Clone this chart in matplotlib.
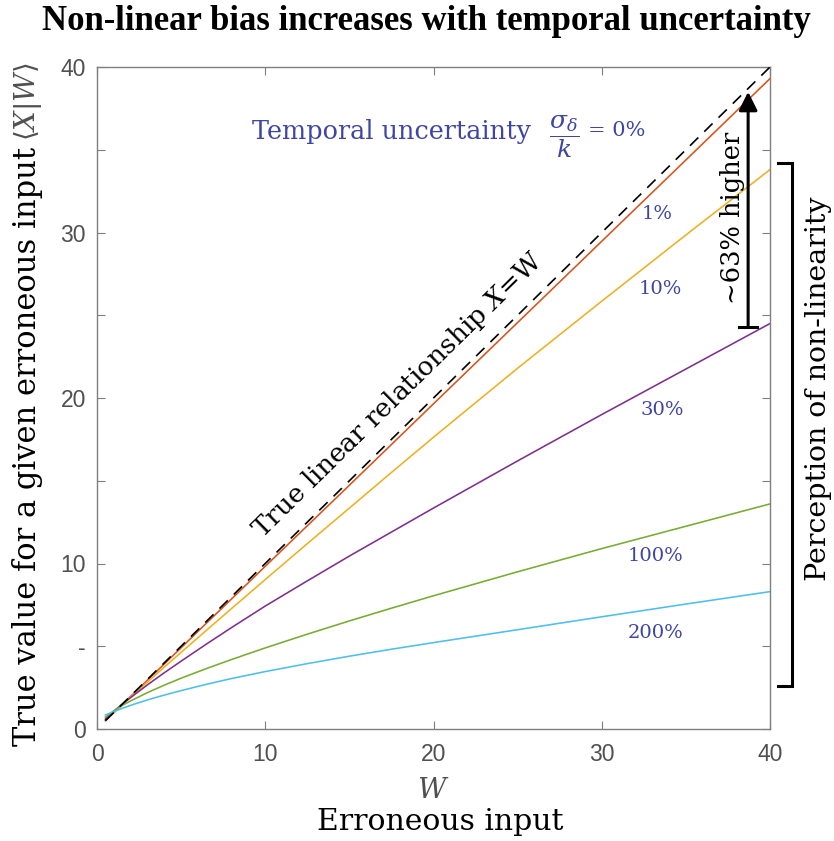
import matplotlib
matplotlib.use("Agg")
import matplotlib.pyplot as plt

# Erroneous input W and the expected true value <X|W> for each temporal uncertainty level
W = [0.5, 1, 1.5, 2, 3, 4, 5, 6.5, 8, 10, 12.5, 15, 17.5, 20, 25, 30, 35, 40]
x_1pct = [0.50, 0.99, 1.48, 1.97, 2.95, 3.93, 4.91, 6.39, 7.86, 9.83,
          12.28, 14.73, 17.19, 19.65, 24.56, 29.47, 34.38, 39.3]
x_10pct = [0.55, 1.00, 1.47, 1.93, 2.84, 3.74, 4.63, 5.96, 7.28, 9.03,
           11.2, 13.35, 15.5, 17.63, 21.8, 25.85, 29.85, 33.8]
x_30pct = [0.60, 1.08, 1.50, 1.90, 2.67, 3.40, 4.10, 5.13, 6.13, 7.43,
           8.95, 10.45, 11.9, 13.35, 16.2, 19.0, 21.75, 24.5]
x_100pct = [0.72, 1.10, 1.42, 1.70, 2.20, 2.65, 3.07, 3.65, 4.20, 4.90,
            5.73, 6.53, 7.30, 8.05, 9.50, 10.9, 12.25, 13.6]
x_200pct = [0.85, 1.05, 1.25, 1.43, 1.76, 2.05, 2.32, 2.70, 3.05, 3.47,
            3.95, 4.40, 4.82, 5.22, 6.00, 6.78, 7.55, 8.3]
W_true = [0.5, 40]
X_true = [0.5, 40]

series = [x_1pct, x_10pct, x_30pct, x_100pct, x_200pct]
series_colors = ["#D95319", "#EDB120", "#7E2F8E", "#77AC30", "#4DBEEE"]
pct_labels = ["1%", "10%", "30%", "100%", "200%"]
pct_label_pos = [(33.3, 31.1), (33.5, 26.6), (33.6, 19.3), (33.2, 10.45), (33.2, 5.8)]

x_ticks = [0, 10, 20, 30, 40]
y_ticks = [0, 5, 10, 15, 20, 25, 30, 35, 40]
y_tick_labels = ["0", "-", "10", "", "20", "", "30", "", "40"]

SERIF = "DejaVu Serif"
ANNOT = "#3f45a3"
GRAY = "#505050"
plt.rcParams["mathtext.fontset"] = "dejavuserif"

fig = plt.figure(figsize=(8.34, 8.41), dpi=100)
ax = fig.add_axes([97 / 834, 1 - 729 / 841, 673 / 834, 662 / 841])

for vals, col in zip(series, series_colors):
    ax.plot(W, vals, color=col, lw=1.15, zorder=2)
ax.plot(W_true, X_true, color="black", lw=1.2, ls=(0, (7, 5)), zorder=3)

ax.set_xlim(0, 40)
ax.set_ylim(0, 40)
ax.set_xticks(x_ticks)
ax.set_yticks(y_ticks)
ax.set_yticklabels(y_tick_labels)
ax.tick_params(direction="in", length=6, width=0.8, color="#7f7f7f",
               labelcolor=GRAY, labelsize=16.5, top=True, right=True)
for lab in ax.get_xticklabels() + ax.get_yticklabels():
    lab.set_fontfamily("Liberation Sans")
ax.tick_params(axis="x", pad=10)
ax.tick_params(axis="y", pad=8)
for sp in ax.spines.values():
    sp.set_color("#7f7f7f")
    sp.set_linewidth(1.0)

# Percent labels next to each curve
for lab, (lx, ly) in zip(pct_labels, pct_label_pos):
    ax.text(lx, ly, lab, color=ANNOT, fontsize=14, family=SERIF,
            ha="center", va="center")

# Uncertainty legend line at the top
fig.text(252 / 834, 1 - 131 / 841, "Temporal uncertainty", color=ANNOT,
         fontsize=18.4, family=SERIF, ha="left", va="center")
fig.text(564 / 834, 1 - 137 / 841, r"$\dfrac{\sigma_\delta}{k}$", color=ANNOT,
         fontsize=18, ha="center", va="center")
fig.text(588 / 834, 1 - 131 / 841, "= 0%", color=ANNOT,
         fontsize=15, family=SERIF, ha="left", va="center")

# Label along the identity line
ax.text(17.9, 20.2, r"True linear relationship $X$=W", rotation=44.5,
        rotation_mode="anchor", ha="center", va="center",
        fontsize=19, family=SERIF, color="black")

# Arrow showing the gap between the 30% curve and the identity line
ax.annotate("", xy=(38.7, 38.5), xytext=(38.7, 24.3),
            arrowprops=dict(arrowstyle="-|>", lw=2.2, color="black",
                            mutation_scale=28, shrinkA=0, shrinkB=0),
            annotation_clip=False)
ax.plot([38.15, 39.25], [24.3, 24.3], color="black", lw=2.2, clip_on=False)
ax.text(37.8, 30.9, "~63% higher", rotation=90, ha="center", va="center",
        fontsize=18.5, family=SERIF, color="black")

# Bracket on the right
ax.plot([40.45, 41.3, 41.3, 40.45], [34.2, 34.2, 2.6, 2.6], color="black",
        lw=2.2, clip_on=False, solid_joinstyle="miter")
fig.text(818 / 834, 1 - 389 / 841, "Perception of non-linearity", rotation=90,
         ha="center", va="center", fontsize=20.5, family=SERIF, color="black")

# Axis labels
fig.text(433 / 834, 1 - 790 / 841, r"$W$", color=GRAY, fontsize=20,
         ha="center", va="center")
fig.text(440 / 834, 1 - 822 / 841, "Erroneous input", color="black",
         fontsize=21.5, family=SERIF, ha="center", va="center")
fig.text(28 / 834, 1 - 446 / 841, "True value for a given erroneous input",
         rotation=90, color="black", fontsize=22, family=SERIF,
         ha="center", va="center")
fig.text(28 / 834, 1 - 102 / 841, r"$\langle X|W\rangle$", rotation=90,
         color=GRAY, fontsize=20, ha="center", va="center")

fig.text(426 / 834, 1 - 22 / 841,
         "Non-linear bias increases with temporal uncertainty",
         fontsize=25, family="Liberation Serif", weight="bold",
         ha="center", va="center", color="black")

fig.savefig("out.png", dpi=100)
